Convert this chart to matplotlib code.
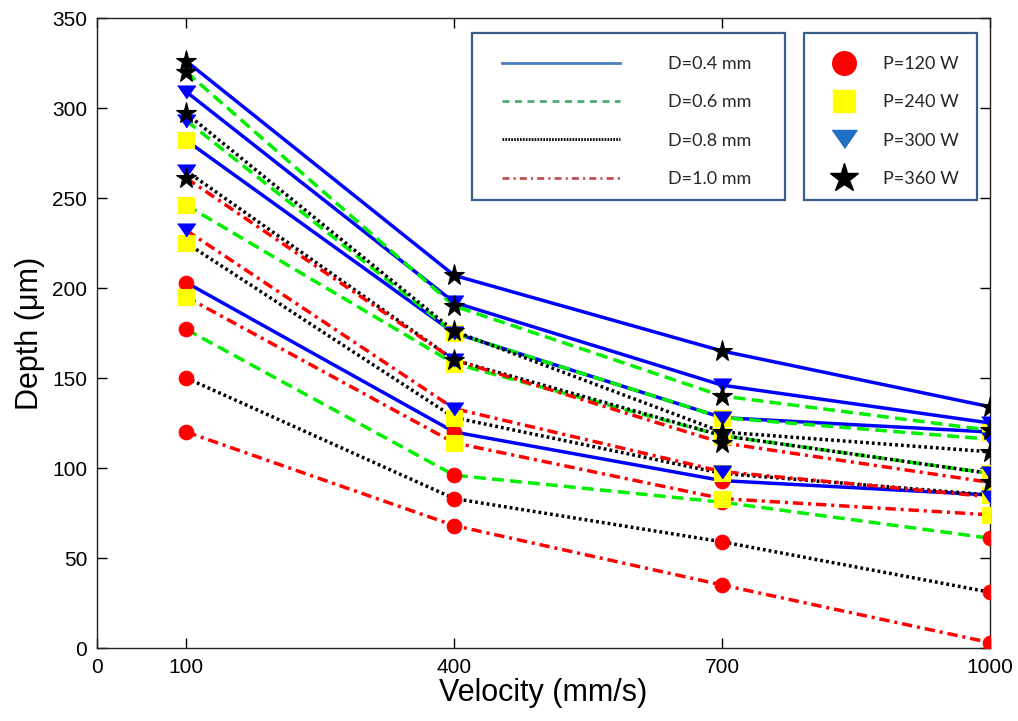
import matplotlib
matplotlib.use("Agg")
import matplotlib.pyplot as plt
from matplotlib.lines import Line2D
from matplotlib.patches import Rectangle

plt.rcParams['font.family'] = ['Liberation Sans', 'DejaVu Sans']
plt.rcParams['lines.scale_dashes'] = False

# ---------------- data ----------------
velocity = [100, 400, 700, 1000]
powers = [120, 240, 300, 360]
diameters = [0.4, 0.6, 0.8, 1.0]

# depth (um) for each power [120, 240, 300, 360], per spot diameter
depth_d04 = [[203, 120, 93, 85],
             [282, 175, 128, 120],
             [309, 192, 146, 125],
             [326, 207, 165, 134]]
depth_d06 = [[177, 96, 81, 61],
             [246, 158, 118, 97],
             [293, 175, 128, 116],
             [320, 190, 140, 121]]
depth_d08 = [[150, 83, 59, 31],
             [225, 128, 97, 85],
             [265, 160, 118, 97],
             [297, 176, 120, 109]]
depth_d10 = [[120, 68, 35, 3],
             [195, 114, 83, 74],
             [232, 133, 98, 84],
             [261, 160, 114, 92]]
depths = [depth_d04, depth_d06, depth_d08, depth_d10]

x_ticks = [0, 100, 400, 700, 1000]
y_ticks = [0, 50, 100, 150, 200, 250, 300, 350]

# ---------------- styles ----------------
line_colors = ['#0000ff', '#00f000', '#000000', '#ff0000']
line_dashes = [None, (8.5, 4.5), (2.0, 2.2), (7.5, 3.5, 2.2, 3.5)]
tri_marker = [(-1, 0.72), (1, 0.72), (0, -0.72)]
marker_styles = [
    dict(marker='o', ms=10.5, color='#ff0000'),
    dict(marker='s', ms=11, color='#ffff00'),
    dict(marker=tri_marker, ms=13, color='#0000ff'),
    dict(marker='*', ms=15.5, color='#000000'),
]

W, H = 1018, 721
fig = plt.figure(figsize=(W / 100, H / 100), dpi=100)
ax = fig.add_axes([97 / W, (H - 648) / H, 893 / W, 630 / H])

# lines
for di, dset in enumerate(depths):
    for pi, vals in enumerate(dset):
        kw = dict(color=line_colors[di], lw=2.5, zorder=2)
        if line_dashes[di] is not None:
            kw['dashes'] = line_dashes[di]
        ax.plot(velocity, vals, **kw)

# markers (drawn on top, stars topmost)
for pi in range(len(powers)):
    st = marker_styles[pi]
    for di, dset in enumerate(depths):
        ax.plot(velocity, dset[pi], linestyle='none', marker=st['marker'],
                markersize=st['ms'], markerfacecolor=st['color'],
                markeredgecolor=st['color'], markeredgewidth=0.8,
                zorder=3 + pi)

ax.set_xlim(0, 1000)
ax.set_ylim(0, 350)
ax.set_xticks(x_ticks)
ax.set_yticks(y_ticks)
ax.tick_params(direction='in', length=7, width=1, top=True, right=True,
               labelsize=15, colors='black')
ax.tick_params(axis='x', pad=7)
ax.tick_params(axis='y', pad=7)
for sp in ax.spines.values():
    sp.set_linewidth(1.0)
    sp.set_color('#222222')
ax.set_xlabel('Velocity (mm/s)', fontsize=22, labelpad=1)
ax.set_ylabel('Depth (\u03bcm)', fontsize=22, labelpad=5)

# ---------------- legends ----------------
box_color = '#3a5d8c'
for (x0, y0, x1, y1) in [(472, 33, 785, 200), (804, 33, 977, 200)]:
    fig.patches.append(Rectangle((x0 / W, (H - y1) / H), (x1 - x0) / W,
                                 (y1 - y0) / H, transform=fig.transFigure,
                                 fill=True, facecolor='white',
                                 edgecolor=box_color, lw=1.6, zorder=10))

leg_font = dict(family=['Lato', 'DejaVu Sans'], size=13)
fs_px = 13 * 100 / 72

leg1_handles = [
    Line2D([], [], color='#4a7ebb', lw=2.0),
    Line2D([], [], color='#4bac6f', lw=2.0, dashes=(5, 4)),
    Line2D([], [], color='#000000', lw=2.0, dashes=(1.2, 0.9)),
    Line2D([], [], color='#c0504d', lw=2.0, dashes=(5, 3, 1.5, 3)),
]
leg1_labels = ['D=%.1f mm' % d for d in diameters]
leg1 = fig.legend(leg1_handles, leg1_labels, loc='upper left',
                  bbox_to_anchor=(502 / W, (H - 56) / H), frameon=False,
                  borderpad=0, borderaxespad=0, prop=leg_font,
                  handlelength=118 / fs_px, handletextpad=48 / fs_px,
                  labelspacing=1.24, labelcolor='#262626')
leg1.set_zorder(11)

leg2_handles = [
    Line2D([], [], linestyle='none', marker='o', ms=17, mfc='#ff0000', mec='#ff0000'),
    Line2D([], [], linestyle='none', marker='s', ms=16, mfc='#ffff00', mec='#ffff00'),
    Line2D([], [], linestyle='none', marker=tri_marker, ms=18, mfc='#1f70c4', mec='#1f70c4'),
    Line2D([], [], linestyle='none', marker='*', ms=21, mfc='#000000', mec='#000000'),
]
leg2_labels = ['P=%d W' % p for p in powers]
leg2 = fig.legend(leg2_handles, leg2_labels, loc='upper left',
                  bbox_to_anchor=(830 / W, (H - 56) / H), frameon=False,
                  borderpad=0, borderaxespad=0, prop=leg_font,
                  handlelength=27 / fs_px, handletextpad=26 / fs_px,
                  labelspacing=1.24, labelcolor='#262626')
leg2.set_zorder(11)

fig.savefig('out.png', dpi=100)
